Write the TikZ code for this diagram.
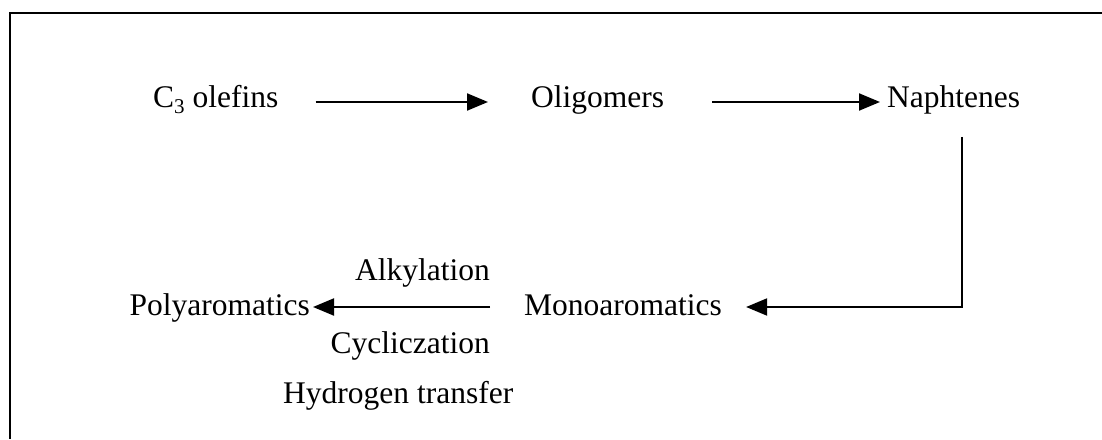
\documentclass[tikz,border=0pt]{standalone}
\usepackage{fontspec}
\setmainfont{Liberation Serif}
\usetikzlibrary{arrows.meta}
\begin{document}
\begin{tikzpicture}[x=1pt,y=-1pt,
  lbl/.style={inner sep=0pt, font=\fontsize{31.5}{37}\selectfont},
  flow/.style={line width=2pt, -{Triangle[length=21pt,width=17pt]}},
  frameline/.style={line width=2pt}]
\useasboundingbox (0,0) rectangle (1102,439);
\draw[frameline] (1102,13) -- (10,13) -- (10,439);
% nodes
\node[lbl, anchor=base west] (c3) at (153,107) {C\raisebox{-6pt}{\fontsize{21}{21}\selectfont 3} olefins};
\node[lbl, anchor=base west] (olig) at (531,107) {Oligomers};
\node[lbl, anchor=base west] (naph) at (887,107) {Naphtenes};
\node[lbl, anchor=base west] (mono) at (524,315) {Monoaromatics};
\node[lbl, anchor=base east] (poly) at (310,315) {Polyaromatics};
\node[lbl, anchor=base east] (alky) at (490,280) {Alkylation};
\node[lbl, anchor=base east] (cycl) at (490,353) {Cycliczation};
\node[lbl, anchor=base west] (hydr) at (283,403) {Hydrogen transfer};
\coordinate (corner) at (962,307);
\coordinate (toprow) at (0,102);
% connectors
\draw[flow, shorten <=37pt, shorten >=43pt] (c3.east |- toprow) -- (olig.west |- toprow);
\draw[flow, shorten <=48pt, shorten >=7pt] (olig.east |- toprow) -- (naph.west |- toprow);
\draw[flow, shorten >=24pt] (corner |- naph.south) ++(0,23) -- (corner) -- (mono.east |- corner);
\draw[flow, shorten <=34pt, shorten >=3pt] (mono.west |- corner) -- (poly.east |- corner);
\end{tikzpicture}
\end{document}
